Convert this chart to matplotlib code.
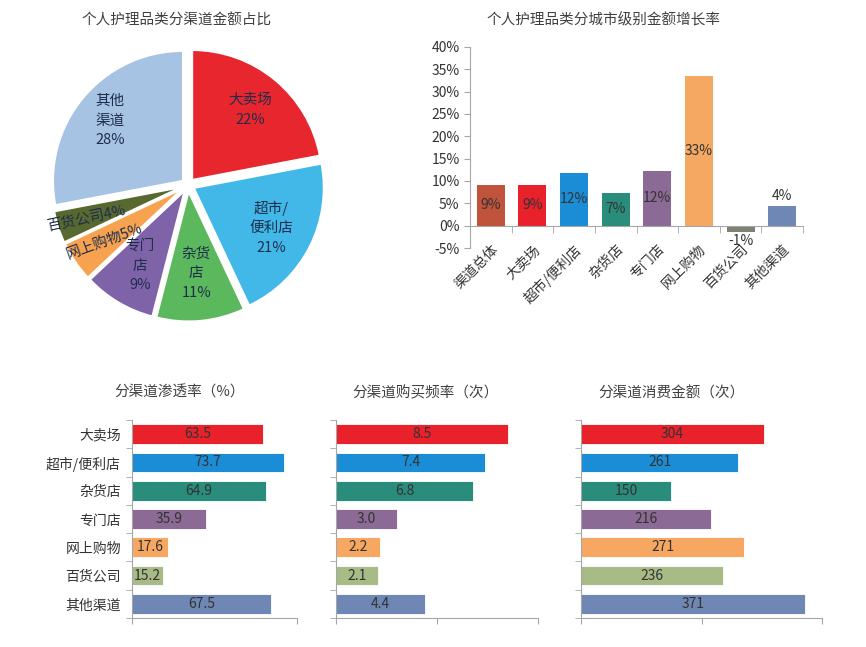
"""个人护理品类渠道数据：饼图 + 增长率柱图 + 三个横向条形图。"""
import matplotlib
matplotlib.use("Agg")
import matplotlib.pyplot as plt
import numpy as np

plt.rcParams["font.family"] = ["Noto Sans CJK SC", "DejaVu Sans"]
plt.rcParams["font.size"] = 10
plt.rcParams["axes.unicode_minus"] = False

TEXT = "#333333"
TITLE = "#404040"
SPINE = "#A6A6A6"

# ---- 数据 ----
pie_labels = ["大卖场", "超市/\n便利店", "杂货\n店", "专门\n店", "网上购物", "百货公司", "其他\n渠道"]
pie_share = [22, 21, 11, 9, 5, 4, 28]
pie_colors = ["#E8262D", "#41B8E8", "#5CB85C", "#7E63A9", "#F7A24F", "#58692F", "#A7C3E3"]

growth_cats = ["渠道总体", "大卖场", "超市/便利店", "杂货店", "专门店", "网上购物", "百货公司", "其他渠道"]
growth = [9.2, 9.2, 11.9, 7.3, 12.2, 33.4, -1.4, 4.5]
growth_colors = ["#C0533B", "#E8212B", "#1B8DD6", "#2A8C7B", "#8B6B95", "#F4A862", "#7B8271", "#6E87B4"]

channels = ["大卖场", "超市/便利店", "杂货店", "专门店", "网上购物", "百货公司", "其他渠道"]
penetration = [63.5, 73.7, 64.9, 35.9, 17.6, 15.2, 67.5]
frequency = [8.5, 7.4, 6.8, 3.0, 2.2, 2.1, 4.4]
spend = [304, 261, 150, 216, 271, 236, 371]
bar_colors = ["#E8212B", "#1B8DD6", "#2A8C7B", "#8B6B95", "#F6A862", "#A8BB86", "#6E87B4"]

W, H = 866, 647
fig = plt.figure(figsize=(W / 100, H / 100), dpi=100)


def px_axes(left, top, right, bottom):
    return fig.add_axes([left / W, 1 - bottom / H, (right - left) / W, (bottom - top) / H])


def ftext(x, y, s, **kw):
    fig.text(x / W, 1 - y / H, s, **kw)


# ---- 饼图 ----
ax = px_axes(45, 42, 331, 328)
wedges, _ = ax.pie(pie_share, colors=pie_colors, startangle=90, counterclock=False,
                   explode=[0.05] * len(pie_share),
                   wedgeprops=dict(edgecolor="white", linewidth=1.5))
ax.set_xlim(-1.1, 1.1); ax.set_ylim(-1.1, 1.1)
ax.set_aspect("equal")
label_r = [0.75, 0.72, 0.68, 0.72, 0.78, 0.82, 0.78]
label_rot = [0, 0, 0, 0, 20, 12, 0]
label_sep = ["\n", "\n", "\n", "\n", "", "", "\n"]
for w, lab, share, r, rot, sep in zip(wedges, pie_labels, pie_share, label_r, label_rot, label_sep):
    ang = np.deg2rad((w.theta1 + w.theta2) / 2)
    ax.text(r * np.cos(ang), r * np.sin(ang), f"{lab}{sep}{share}%", ha="center", va="center",
            fontsize=10.5, color="#1F2D4D", rotation=rot, linespacing=1.5)
ftext(177, 21, "个人护理品类分渠道金额占比", ha="center", va="center", fontsize=10.5, color=TITLE)

# ---- 增长率柱图 ----
ax = px_axes(470, 47, 803, 248)
ax.spines["bottom"].set_position(("data", 0))  # 先定位脊线，否则会重置刻度
x = np.arange(len(growth))
ax.bar(x, growth, width=0.67, color=growth_colors)
for xi, v in zip(x, growth):
    if abs(v) < 5:
        y = v + 2.2 if v > 0 else v - 2.0
    else:
        y = v / 2
    ax.text(xi, y, f"{v:.0f}%", ha="center", va="center", fontsize=10, color=TEXT)
ax.set_xlim(-0.5, len(growth) - 0.5)
ax.set_ylim(-5, 40)
ax.set_yticks(np.arange(-5, 41, 5))
ax.set_yticklabels([f"{t}%" for t in range(-5, 41, 5)])
ax.set_xticks(x)
ax.set_xticklabels(growth_cats, rotation=45, ha="right", rotation_mode="anchor")
ax.set_xticks(np.arange(-0.5, len(growth)), minor=True)
ax.tick_params(axis="x", which="major", length=0, pad=12, colors=TEXT, labelsize=10)
ax.tick_params(axis="x", which="minor", length=5, color=SPINE, direction="out")
ax.tick_params(axis="y", length=4, color=SPINE, colors=TEXT, labelsize=10)
for s in ["top", "right"]:
    ax.spines[s].set_visible(False)
for s in ["left", "bottom"]:
    ax.spines[s].set_color(SPINE)
ftext(603, 20, "个人护理品类分城市级别金额增长率", ha="center", va="center", fontsize=10.5, color=TITLE)

# ---- 三个横向条形图 ----
panels = [
    ((132, 297), penetration, 80, [0, 80], "{:.1f}", "分渠道渗透率（%）", 180, True),
    ((336, 538), frequency, 10, [0, 5, 10], "{:.1f}", "分渠道购买频率（次）", 425, False),
    ((581, 822), spend, 400, [0, 200, 400], "{:.0f}", "分渠道消费金额（次）", 671, False),
]
for (l, r), vals, xmax, xt, fmt, title, tx, show_labels in panels:
    ax = px_axes(l, 420, r, 618)
    y = np.arange(len(vals))
    ax.barh(y, vals, height=0.7, color=bar_colors, edgecolor="white", linewidth=0.6)
    for yi, v in zip(y, vals):
        ax.text(v / 2, yi, fmt.format(v), ha="center", va="center", fontsize=10, color=TEXT)
    ax.set_xlim(0, xmax)
    ax.set_ylim(len(vals) - 0.5, -0.5)
    ax.set_xticks(xt)
    ax.set_xticklabels([])
    ax.set_yticks(np.arange(-0.5, len(vals)), minor=True)
    ax.set_yticks(y)
    if show_labels:
        ax.set_yticklabels(channels)
    else:
        ax.set_yticklabels([])
    ax.tick_params(axis="y", which="major", length=0, pad=8, colors=TEXT, labelsize=10)
    ax.tick_params(axis="y", which="minor", length=4, color=SPINE)
    ax.tick_params(axis="x", length=4, color=SPINE)
    for s in ["top", "right"]:
        ax.spines[s].set_visible(False)
    for s in ["left", "bottom"]:
        ax.spines[s].set_color(SPINE)
    ftext(tx, 393, title, ha="center", va="center", fontsize=10.5, color=TITLE)

fig.savefig("out.png", dpi=100)
